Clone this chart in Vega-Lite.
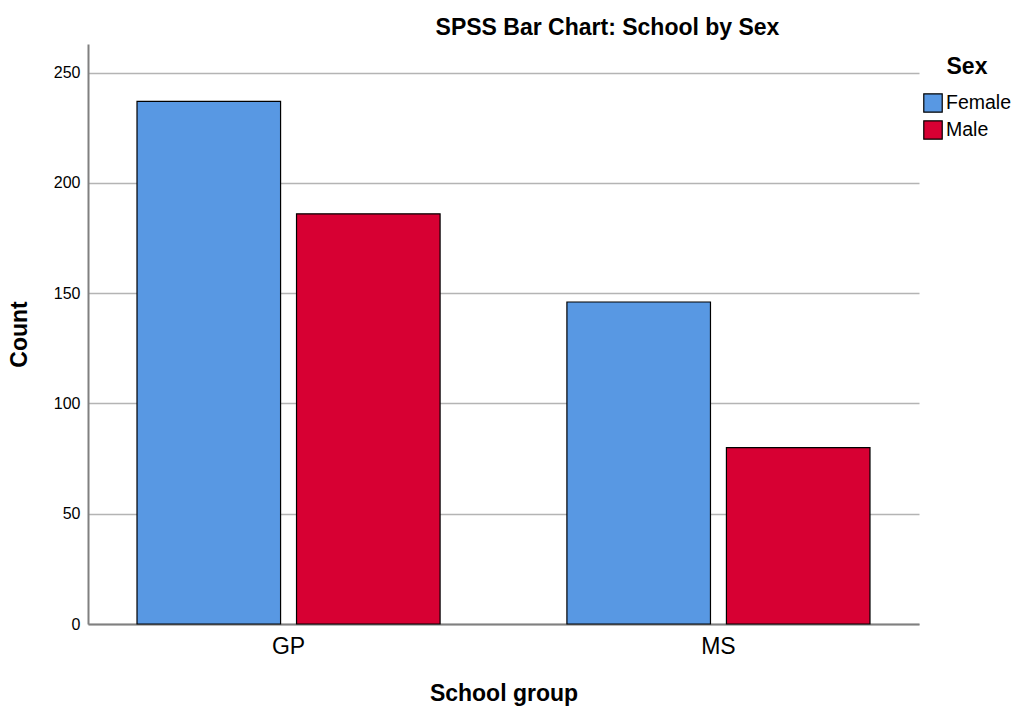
{
  "$schema": "https://vega.github.io/schema/vega-lite/v6.json",
  "width": 831,
  "height": 580,
  "autosize": {"type": "none"},
  "padding": {"left": 88, "top": 44, "right": 93, "bottom": 85},
  "background": "white",
  "title": {
    "text": "SPSS Bar Chart: School by Sex",
    "font": "Liberation Sans",
    "fontSize": 23,
    "fontWeight": "bold",
    "color": "black",
    "anchor": "middle",
    "dx": 104,
    "offset": 4
  },
  "data": {
    "values": [
      {"school": "GP", "sex": "Female", "count": 237},
      {"school": "GP", "sex": "Male", "count": 186},
      {"school": "MS", "sex": "Female", "count": 146},
      {"school": "MS", "sex": "Male", "count": 80}
    ]
  },
  "mark": {"type": "bar", "stroke": "black", "strokeWidth": 1.2},
  "encoding": {
    "x": {
      "field": "school",
      "type": "nominal",
      "scale": {"paddingInner": 0.295, "paddingOuter": 0.114},
      "axis": {
        "title": "School group",
        "titleFont": "Liberation Sans",
        "titleFontSize": 23,
        "titleFontWeight": "bold",
        "titleColor": "black",
        "titlePadding": 24,
        "labelFont": "Liberation Sans",
        "labelFontSize": 23,
        "labelColor": "black",
        "labelAngle": 0,
        "labelPadding": 11,
        "ticks": false,
        "domainColor": "#808080",
        "domainWidth": 2
      }
    },
    "xOffset": {
      "field": "sex",
      "type": "nominal",
      "scale": {"paddingInner": 0.1, "paddingOuter": 0}
    },
    "y": {
      "field": "count",
      "type": "quantitative",
      "scale": {"domain": [0, 263], "nice": false},
      "axis": {
        "title": "Count",
        "values": [0, 50, 100, 150, 200, 250],
        "titleFont": "Liberation Sans",
        "titleFontSize": 23,
        "titleFontWeight": "bold",
        "titleColor": "black",
        "titlePadding": 22,
        "labelFont": "Liberation Sans",
        "labelFontSize": 16,
        "labelColor": "black",
        "labelPadding": 8,
        "ticks": false,
        "grid": true,
        "gridColor": "#b4b4b4",
        "gridWidth": 1.5,
        "domainColor": "#808080",
        "domainWidth": 2
      }
    },
    "color": {
      "field": "sex",
      "type": "nominal",
      "scale": {"domain": ["Female", "Male"], "range": ["#5898E3", "#D70033"]},
      "legend": {
        "title": "Sex",
        "orient": "none",
        "legendX": 835,
        "legendY": 12,
        "titleFont": "Liberation Sans",
        "titleFontSize": 23,
        "titleFontWeight": "bold",
        "titleColor": "black",
        "titlePadding": 14,
        "titleAnchor": "middle",
        "labelFont": "Liberation Sans",
        "labelFontSize": 19.5,
        "labelColor": "black",
        "labelOffset": 3,
        "symbolType": "square",
        "symbolSize": 340,
        "symbolStrokeColor": "black",
        "symbolStrokeWidth": 1.2,
        "rowPadding": 3
      }
    }
  },
  "config": {"view": {"stroke": null}}
}
